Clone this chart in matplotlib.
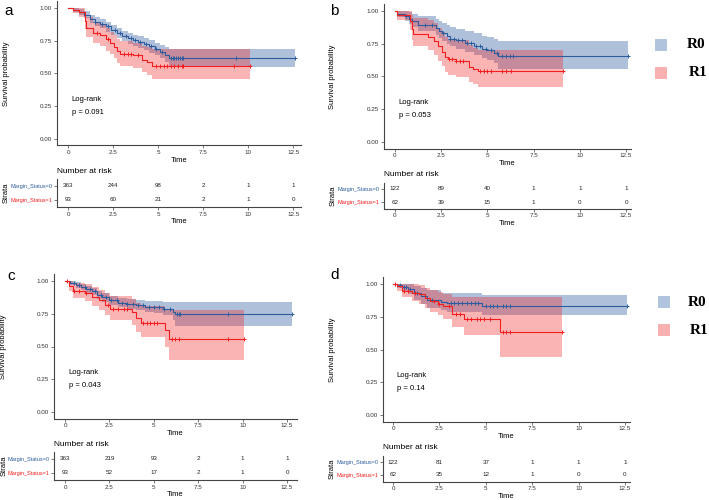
import numpy as np
import matplotlib
matplotlib.use("Agg")
import matplotlib.pyplot as plt
from matplotlib.patches import Rectangle

plt.rcParams['font.family'] = ['Liberation Sans', 'DejaVu Sans']

W, H = 709, 500

# ---------------- data ----------------
# panel a
a_r0_t = [0, 0.3, 0.6, 0.9, 1.2, 1.5, 1.8, 2.1, 2.4, 2.7, 3.0, 3.3, 3.6, 3.9, 4.2, 4.5, 4.8, 5.1, 5.4, 5.6, 12.6]
a_r0_s = [1.0, 0.985, 0.97, 0.95, 0.915, 0.895, 0.88, 0.86, 0.835, 0.81, 0.785, 0.77, 0.755, 0.74, 0.725, 0.71, 0.685, 0.665, 0.64, 0.615, 0.615]
a_r0_hi = [1.0, 1.0, 0.99, 0.975, 0.945, 0.93, 0.915, 0.895, 0.87, 0.85, 0.825, 0.81, 0.795, 0.785, 0.77, 0.755, 0.735, 0.715, 0.70, 0.685, 0.685]
a_r0_lo = [1.0, 0.97, 0.95, 0.925, 0.885, 0.86, 0.845, 0.82, 0.795, 0.77, 0.745, 0.725, 0.71, 0.695, 0.68, 0.66, 0.64, 0.615, 0.59, 0.55, 0.55]
a_r0_cens = [1.5, 1.9, 2.2, 2.6, 2.9, 3.2, 3.5, 3.7, 4.0, 4.3, 4.6, 4.9, 5.2, 5.7, 5.8, 5.9, 6.0, 6.1, 6.2, 6.3, 6.4, 9.3, 12.6]
a_r1_t = [0, 0.3, 0.6, 0.92, 1.0, 1.4, 1.8, 2.1, 2.35, 2.55, 2.7, 2.9, 3.6, 4.1, 4.4, 4.65, 10.1]
a_r1_s = [1.0, 0.985, 0.97, 0.90, 0.85, 0.81, 0.79, 0.76, 0.73, 0.70, 0.67, 0.65, 0.64, 0.605, 0.59, 0.56, 0.56]
a_r1_hi = [1.0, 1.0, 1.0, 0.96, 0.93, 0.89, 0.87, 0.845, 0.815, 0.79, 0.765, 0.745, 0.735, 0.71, 0.70, 0.685, 0.685]
a_r1_lo = [1.0, 0.96, 0.93, 0.84, 0.78, 0.73, 0.71, 0.675, 0.645, 0.615, 0.58, 0.555, 0.545, 0.51, 0.49, 0.46, 0.46]
a_r1_cens = [1.6, 2.2, 3.1, 3.3, 3.5, 3.9, 4.9, 5.1, 5.3, 5.5, 5.7, 5.9, 6.1, 6.3, 6.4, 9.2, 10.1]
a_risk0 = [363, 244, 98, 2, 1, 1]
a_risk1 = [93, 60, 21, 2, 1, 0]
a_p = "p = 0.091"

# panel b
b_r0_t = [0, 0.1, 0.55, 0.75, 0.9, 1.25, 2.2, 2.4, 2.55, 2.8, 2.95, 3.3, 3.8, 4.3, 4.7, 5.0, 5.35, 5.6, 12.6]
b_r0_s = [1.0, 0.98, 0.96, 0.94, 0.92, 0.895, 0.87, 0.85, 0.83, 0.81, 0.79, 0.775, 0.755, 0.735, 0.71, 0.70, 0.68, 0.655, 0.655]
b_r0_hi = [1.0, 1.0, 1.0, 0.99, 0.975, 0.96, 0.94, 0.925, 0.91, 0.895, 0.88, 0.865, 0.85, 0.83, 0.81, 0.80, 0.79, 0.77, 0.77]
b_r0_lo = [1.0, 0.955, 0.925, 0.90, 0.875, 0.845, 0.815, 0.795, 0.77, 0.75, 0.73, 0.71, 0.69, 0.665, 0.64, 0.625, 0.60, 0.555, 0.555]
b_r0_cens = [0.6, 1.6, 2.0, 2.6, 3.0, 3.2, 3.4, 3.6, 3.9, 4.1, 4.4, 4.6, 4.9, 5.2, 5.5, 5.8, 6.0, 6.2, 6.4, 12.6]
b_r1_t = [0, 0.1, 0.8, 0.92, 1.0, 1.8, 2.1, 2.35, 2.55, 2.7, 2.85, 3.3, 4.0, 4.2, 4.5, 9.1]
b_r1_s = [1.0, 0.97, 0.92, 0.86, 0.825, 0.80, 0.77, 0.73, 0.69, 0.65, 0.63, 0.615, 0.575, 0.555, 0.54, 0.54]
b_r1_hi = [1.0, 1.0, 1.0, 0.97, 0.945, 0.93, 0.905, 0.87, 0.84, 0.805, 0.79, 0.775, 0.74, 0.72, 0.70, 0.70]
b_r1_lo = [1.0, 0.93, 0.855, 0.78, 0.73, 0.70, 0.665, 0.62, 0.58, 0.535, 0.515, 0.50, 0.46, 0.44, 0.42, 0.42]
b_r1_cens = [2.9, 3.1, 3.3, 3.5, 3.7, 4.6, 4.8, 5.0, 5.2, 5.8, 6.0, 6.3, 9.1]
b_risk0 = [122, 89, 40, 1, 1, 1]
b_risk1 = [62, 39, 15, 1, 0, 0]
b_p = "p = 0.053"

# panel c
c_r0_t = [0, 0.3, 0.6, 0.9, 1.2, 1.5, 1.8, 2.1, 2.5, 3.0, 3.5, 4.0, 4.5, 5.0, 5.5, 6.1, 6.2, 12.8]
c_r0_s = [1.0, 0.985, 0.97, 0.955, 0.94, 0.92, 0.895, 0.875, 0.855, 0.835, 0.825, 0.815, 0.805, 0.80, 0.79, 0.765, 0.745, 0.745]
c_r0_hi = [1.0, 1.0, 0.99, 0.975, 0.965, 0.945, 0.925, 0.905, 0.885, 0.87, 0.86, 0.855, 0.85, 0.845, 0.84, 0.84, 0.842, 0.842]
c_r0_lo = [1.0, 0.97, 0.95, 0.93, 0.91, 0.89, 0.865, 0.84, 0.82, 0.80, 0.785, 0.775, 0.765, 0.755, 0.74, 0.70, 0.66, 0.66]
c_r0_cens = [0.5, 0.8, 1.1, 1.4, 1.7, 2.0, 2.3, 2.6, 2.9, 3.2, 3.5, 3.8, 4.1, 4.4, 4.7, 5.0, 5.3, 5.6, 5.9, 6.3, 6.4, 6.5, 9.2, 12.8]
c_r1_t = [0, 0.2, 0.45, 1.1, 1.5, 1.9, 2.25, 2.55, 3.75, 4.0, 4.3, 5.65, 5.85, 10.1]
c_r1_s = [1.0, 0.96, 0.925, 0.91, 0.88, 0.855, 0.82, 0.79, 0.76, 0.715, 0.68, 0.625, 0.555, 0.555]
c_r1_hi = [1.0, 1.0, 0.985, 0.975, 0.955, 0.935, 0.91, 0.885, 0.86, 0.83, 0.81, 0.78, 0.78, 0.78]
c_r1_lo = [1.0, 0.92, 0.87, 0.85, 0.81, 0.78, 0.74, 0.70, 0.665, 0.61, 0.575, 0.50, 0.40, 0.40]
c_r1_cens = [0.1, 0.5, 0.8, 1.2, 2.4, 2.7, 3.0, 3.3, 3.5, 4.4, 4.6, 4.8, 5.0, 5.2, 6.0, 6.2, 6.4, 9.2, 10.1]
c_risk0 = [363, 219, 93, 2, 1, 1]
c_risk1 = [93, 52, 17, 2, 1, 0]
c_p = "p = 0.043"

# panel d
d_r0_t = [0, 0.2, 0.5, 0.8, 1.15, 1.5, 1.85, 2.6, 2.9, 4.8, 12.6]
d_r0_s = [1.0, 0.99, 0.98, 0.965, 0.93, 0.905, 0.88, 0.862, 0.855, 0.83, 0.83]
d_r0_hi = [1.0, 1.0, 1.0, 1.0, 0.985, 0.97, 0.955, 0.935, 0.93, 0.915, 0.915]
d_r0_lo = [1.0, 0.97, 0.95, 0.925, 0.88, 0.85, 0.82, 0.80, 0.79, 0.76, 0.76]
d_r0_cens = [0.4, 0.6, 0.7, 0.9, 1.3, 1.7, 2.1, 3.1, 3.3, 3.5, 3.7, 4.0, 4.2, 4.4, 4.6, 5.0, 5.2, 5.4, 5.6, 5.9, 6.1, 6.3, 12.6]
d_r1_t = [0, 0.2, 0.5, 1.0, 1.4, 1.7, 2.0, 2.4, 2.7, 3.2, 3.85, 5.75, 9.1]
d_r1_s = [1.0, 0.985, 0.95, 0.935, 0.92, 0.895, 0.87, 0.85, 0.83, 0.77, 0.735, 0.63, 0.63]
d_r1_hi = [1.0, 1.0, 1.0, 1.0, 0.99, 0.97, 0.955, 0.94, 0.925, 0.90, 0.90, 0.90, 0.90]
d_r1_lo = [1.0, 0.95, 0.90, 0.87, 0.85, 0.82, 0.79, 0.76, 0.73, 0.67, 0.61, 0.44, 0.44]
d_r1_cens = [0.1, 0.6, 0.8, 1.2, 2.2, 2.5, 3.0, 3.4, 3.6, 4.0, 4.2, 4.5, 4.7, 4.9, 5.2, 5.9, 6.1, 6.3, 9.1]
d_risk0 = [122, 81, 37, 1, 1, 1]
d_risk1 = [62, 35, 12, 1, 0, 0]
d_p = "p = 0.14"

time_ticks = [0, 2.5, 5, 7.5, 10, 12.5]
time_labels = ["0", "2.5", "5", "7.5", "10", "12.5"]
surv_ticks = [0, 0.25, 0.5, 0.75, 1.0]
surv_labels = ["0.00", "0.25", "0.50", "0.75", "1.00"]
strata = ["Margin_Status=0", "Margin_Status=1"]
legend_labels = ["R0", "R1"]

BLUE = "#2d5c9e"
RED = "#f41e1e"
BLUE_FILL = "#b0c4de"
RED_FILL = "#f8b0b0"
AXC = "#444444"

fig = plt.figure(figsize=(7.09, 5.0), dpi=100)


def box(l, t, r, b):
    return [l / W, 1 - b / H, (r - l) / W, (b - t) / H]


def fx(x):
    return x / W


def fy(y):
    return 1 - y / H


def step_at(t, s, x):
    idx = np.searchsorted(t, x, side='right') - 1
    return np.asarray(s)[idx]


def style(ax):
    for sp in ['top', 'right']:
        ax.spines[sp].set_visible(False)
    for sp in ['left', 'bottom']:
        ax.spines[sp].set_color(AXC)
        ax.spines[sp].set_linewidth(0.8)
    ax.tick_params(length=2, width=0.5, color=AXC, labelsize=4.5, pad=1.5, labelcolor="#333333")
    ax.set_xticks(time_ticks)
    ax.set_xticklabels(time_labels)


def km_panel(main_px, tab_px, xlim, r0, r1, risk0, risk1, ptxt, letter, letter_xy, lab_x):
    ax = fig.add_axes(box(*main_px))
    ax.fill_between(r0[0], r0[3], r0[2], step='post', color=BLUE, alpha=0.38, lw=0)
    ax.fill_between(r1[0], r1[3], r1[2], step='post', color=RED, alpha=0.33, lw=0)
    for (t, s, hi, lo, cens), col in [(r0, BLUE), (r1, RED)]:
        ax.step(t, s, where='post', color=col, lw=0.8)
        ax.plot(cens, step_at(t, s, cens), '+', color=col, ms=3, mew=0.7)
    ax.set_xlim(xlim)
    ax.set_ylim(-0.05, 1.05)
    style(ax)
    ax.set_yticks(surv_ticks)
    ax.set_yticklabels(surv_labels)
    ax.set_xlabel("Time", fontsize=5.5, labelpad=1)
    ax.text(0.2, 0.30, "Log-rank", fontsize=5.5, va='center')
    ax.text(0.2, 0.20, ptxt, fontsize=5.5, va='center')
    cy = (main_px[1] + main_px[3]) / 2
    fig.text(fx(lab_x), fy(cy), "Survival probability", rotation=90, fontsize=5.5,
             ha='center', va='center')

    tb = fig.add_axes(box(*tab_px))
    tb.set_xlim(xlim)
    tb.set_ylim(2.5, 0.5)
    for row, vals in enumerate([risk0, risk1]):
        for x, v in zip(time_ticks, vals):
            tb.text(x, row + 1, str(v), ha='center', va='center', fontsize=4.5, color="#222222")
    style(tb)
    tb.set_yticks([1, 2])
    tb.set_yticklabels(strata)
    tb.tick_params(axis='y', labelsize=4.0)
    for lab, col in zip(tb.get_yticklabels(), [BLUE, RED]):
        lab.set_color(col)
    tb.set_xlabel("Time", fontsize=5.5, labelpad=1)
    fig.text(fx(tab_px[0]), fy(tab_px[1] - 8), "Number at risk", fontsize=6, ha='left', va='center')
    ty = (tab_px[1] + tab_px[3]) / 2
    fig.text(fx(lab_x), fy(ty), "Strata", rotation=90, fontsize=5.5, ha='center', va='center')

    fig.text(fx(letter_xy[0]), fy(letter_xy[1]), letter, fontsize=11, ha='center', va='center')


def legend(x_sq, y_top, x_txt):
    for i, (lab, col) in enumerate(zip(legend_labels, [BLUE_FILL, RED_FILL])):
        y0 = y_top + i * 28
        fig.add_artist(Rectangle((fx(x_sq), fy(y0 + 12)), 12 / W, 12 / H,
                                 transform=fig.transFigure, color=col, lw=0))
        fig.text(fx(x_txt[i]), fy(y0 + 6), lab, fontsize=11, fontweight='bold',
                 family='Liberation Serif', ha='left', va='center')


km_panel((57, 1.45, 301, 145.5), (57, 179, 301, 207), (-0.61, 12.92),
         (a_r0_t, a_r0_s, a_r0_hi, a_r0_lo, a_r0_cens),
         (a_r1_t, a_r1_s, a_r1_hi, a_r1_lo, a_r1_cens),
         a_risk0, a_risk1, a_p, "a", (9, 11), 6)
km_panel((384, 4.45, 631, 148.55), (384, 182.5, 631, 208.5), (-0.595, 12.77),
         (b_r0_t, b_r0_s, b_r0_hi, b_r0_lo, b_r0_cens),
         (b_r1_t, b_r1_s, b_r1_hi, b_r1_lo, b_r1_cens),
         b_risk0, b_risk1, b_p, "b", (334, 11), 333)
km_panel((54, 274.45, 297, 418.55), (54, 452, 297, 480), (-0.62, 13.06),
         (c_r0_t, c_r0_s, c_r0_hi, c_r0_lo, c_r0_cens),
         (c_r1_t, c_r1_s, c_r1_hi, c_r1_lo, c_r1_cens),
         c_risk0, c_risk1, c_p, "c", (11, 276), 4)
km_panel((383, 277.45, 630, 421.55), (383, 455.5, 630, 481.5), (-0.54, 12.77),
         (d_r0_t, d_r0_s, d_r0_hi, d_r0_lo, d_r0_cens),
         (d_r1_t, d_r1_s, d_r1_hi, d_r1_lo, d_r1_cens),
         d_risk0, d_risk1, d_p, "d", (335, 275), 332)

legend(655, 39, (687, 689))
legend(658, 296, (688, 690))

fig.savefig("out.png", dpi=100)
